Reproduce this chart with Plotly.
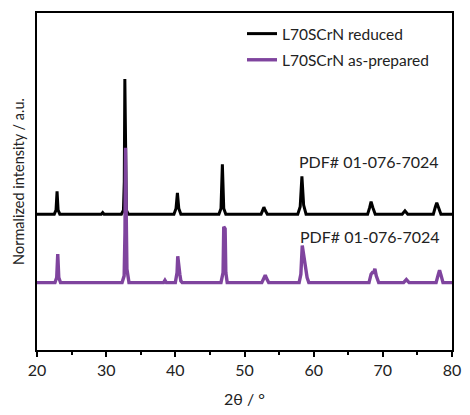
import plotly.graph_objects as go

# 2theta (deg) and normalized intensity (offset, a.u.)
reduced_x = [20, 22.5, 22.75, 22.9, 23.05, 23.3,
             29.3, 29.5, 29.7,
             32.2, 32.5, 32.62, 32.7, 32.8, 32.92, 33.2,
             39.8, 40.1, 40.3, 40.5, 40.8,
             46.3, 46.6, 46.8, 47.0, 47.3,
             52.4, 52.7, 52.8, 52.95, 53.3,
             57.7, 58.05, 58.3, 58.55, 58.9,
             67.8, 68.1, 68.3, 68.55, 68.9,
             72.8, 73.2, 73.6,
             77.3, 77.6, 77.8, 78.05, 78.4, 80]
reduced_y = [40.3, 40.3, 41.5, 47.1, 41.5, 40.3,
             40.3, 40.8, 40.3,
             40.3, 41.5, 50.0, 80.4, 50.0, 41.5, 40.3,
             40.3, 42.0, 46.6, 42.0, 40.3,
             40.3, 42.0, 55.1, 42.0, 40.3,
             40.3, 41.8, 42.4, 41.6, 40.3,
             40.3, 42.5, 51.5, 43.0, 40.3,
             40.3, 42.3, 44.0, 42.3, 40.3,
             40.3, 41.3, 40.3,
             40.3, 42.5, 43.7, 42.3, 40.3, 40.3]

prepared_x = [20, 22.6, 22.85, 23.0, 23.15, 23.4,
              32.3, 32.6, 32.72, 32.8, 32.9, 33.0, 33.3,
              38.3, 38.5, 38.7,
              40.0, 40.25, 40.35, 40.5, 40.65, 40.8, 41.0,
              46.6, 46.9, 47.0, 47.2, 47.3, 47.5,
              52.5, 52.8, 53.0, 53.2, 53.5,
              57.9, 58.15, 58.35, 58.55, 58.8, 59.05, 59.3,
              68.0, 68.3, 68.5, 68.7, 68.85, 69.05, 69.4,
              73.0, 73.4, 73.8,
              77.7, 78.0, 78.2, 78.4, 78.7, 80]
prepared_y = [20.0, 20.0, 21.5, 28.5, 21.5, 20.0,
              20.0, 22.0, 35.0, 60.0, 40.0, 24.0, 20.0,
              20.0, 20.7, 20.0,
              20.0, 23.0, 27.8, 24.0, 22.5, 20.5, 20.0,
              20.0, 23.0, 36.6, 36.0, 23.0, 20.0,
              20.0, 21.2, 22.2, 21.2, 20.0,
              20.0, 22.5, 31.0, 28.0, 25.5, 21.5, 20.0,
              20.0, 22.5, 23.0, 23.0, 24.1, 22.0, 20.0,
              20.0, 20.9, 20.0,
              20.0, 22.3, 23.7, 22.3, 20.0, 20.0]

series_names = ["L70SCrN reduced", "L70SCrN as-prepared"]
pdf_label = "PDF# 01-076-7024"
x_ticks = [20, 30, 40, 50, 60, 70, 80]

FONT = "Lato, 'Open Sans', sans-serif"
PURPLE = "#7F449E"

fig = go.Figure()
fig.add_trace(go.Scatter(x=reduced_x, y=reduced_y, mode="lines", name=series_names[0],
                         legendgroup="g1", line=dict(color="black", width=3)))
fig.add_trace(go.Scatter(x=prepared_x, y=prepared_y, mode="lines", name=series_names[1],
                         legendgroup="g2", line=dict(color=PURPLE, width=3.4)))

fig.add_annotation(x=68.0, y=56.0, text=pdf_label, showarrow=False, xref="x", yref="y",
                   font=dict(family=FONT, size=16, color="#222"))
fig.add_annotation(x=68.1, y=33.7, text=pdf_label, showarrow=False, xref="x", yref="y",
                   font=dict(family=FONT, size=16, color="#222"))

fig.update_layout(
    width=470, height=415,
    margin=dict(l=37, r=8.5, t=13, b=61),
    paper_bgcolor="white", plot_bgcolor="white",
    font=dict(family=FONT, size=15, color="#222"),
    showlegend=True,
    legend=dict(x=0.494, y=0.988, xanchor="left", yanchor="top",
                bgcolor="rgba(0,0,0,0)", font=dict(family=FONT, size=15.5, color="#222"),
                traceorder="grouped", tracegroupgap=3),
    xaxis=dict(range=[20, 80], tickvals=x_ticks, ticks="outside", ticklen=5, tickwidth=2,
               tickcolor="black", showline=True, linecolor="black", linewidth=2,
               mirror=True, showgrid=False, zeroline=False, ticklabeloverflow="allow",
               minor=dict(dtick=5, ticks="outside", ticklen=3, tickwidth=2, tickcolor="black"),
               title=dict(text="2θ / °", font=dict(family=FONT, size=16), standoff=16),
               tickfont=dict(family=FONT, size=16)),
    yaxis=dict(range=[0, 100], showticklabels=False, ticks="", showline=True,
               linecolor="black", linewidth=2, mirror=True, showgrid=False, zeroline=False,
               title=dict(text="Normalized intensity / a.u.", font=dict(family=FONT, size=14.5),
                          standoff=7)),
)

fig.write_html("out.html", config={"displayModeBar": False},
               post_script="document.body.style.margin='0';document.body.style.overflow='hidden';")
